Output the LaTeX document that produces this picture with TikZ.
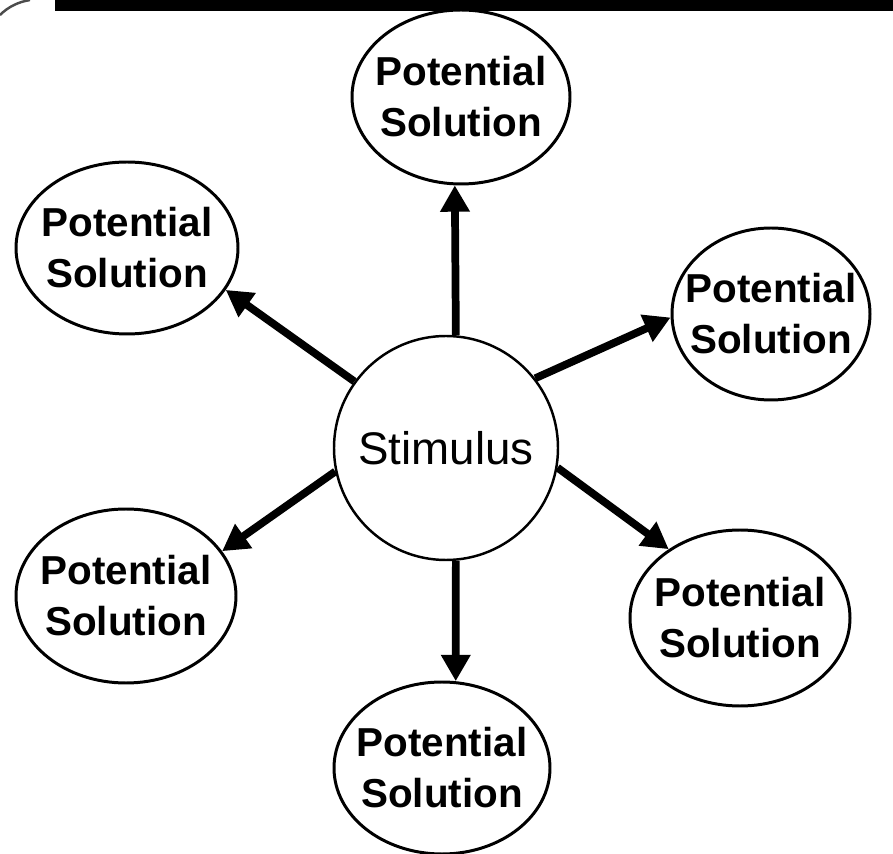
\documentclass[tikz,border=0pt]{standalone}
\usepackage{fontspec}
\setmainfont{Liberation Sans}
\usetikzlibrary{arrows.meta,shapes.geometric}

\begin{document}
\begin{tikzpicture}[x=0.02cm, y=-0.02cm]
        \tikzstyle{solution} = [ellipse, draw, line width=1.7pt, inner xsep=-30pt, inner ysep=-20pt, align=center,
                font=\fontsize{23}{29}\selectfont\bfseries]
        \tikzstyle{stim}     = [circle, draw, line width=1.4pt, inner sep=-20pt, minimum size=224*0.02cm,
                font=\fontsize{26}{30}\selectfont]
        \tikzstyle{arrow}    = [line width=4.4pt, -{Triangle[length=15pt, width=16pt]}]
        \useasboundingbox (0,0) rectangle (893,854);
                % frame remnants at the top
                \fill (55,0) rectangle (893,11);
                \draw [line width=1.4pt, black!70] (0,15) .. controls (8,7) and (18,2) .. (30,0);

                \node [stim] (s) at (446,448) {Stimulus};

                \node [solution, minimum width=218*0.02cm, minimum height=174*0.02cm] (top) at (461,97) {Potential\\Solution};
                \node [solution, minimum width=222*0.02cm, minimum height=172*0.02cm] (ul) at (127,248) {Potential\\Solution};
                \node [solution, minimum width=198*0.02cm, minimum height=172*0.02cm] (ur) at (771,314) {Potential\\Solution};
                \node [solution, minimum width=220*0.02cm, minimum height=174*0.02cm] (ll) at (126,596) {Potential\\Solution};
                \node [solution, minimum width=220*0.02cm, minimum height=176*0.02cm] (lr) at (740,618) {Potential\\Solution};
                \node [solution, minimum width=216*0.02cm, minimum height=172*0.02cm] (bot) at (442,768) {Potential\\Solution};

                \foreach \t/\a/\b in {top/85/-94, ul/144/-23, ur/38/182, ll/-168/25, lr/-10/136, bot/-85/81}
                {
                        \draw [arrow] (s.\a) -- (\t.\b);
                }
\end{tikzpicture}
\end{document}
